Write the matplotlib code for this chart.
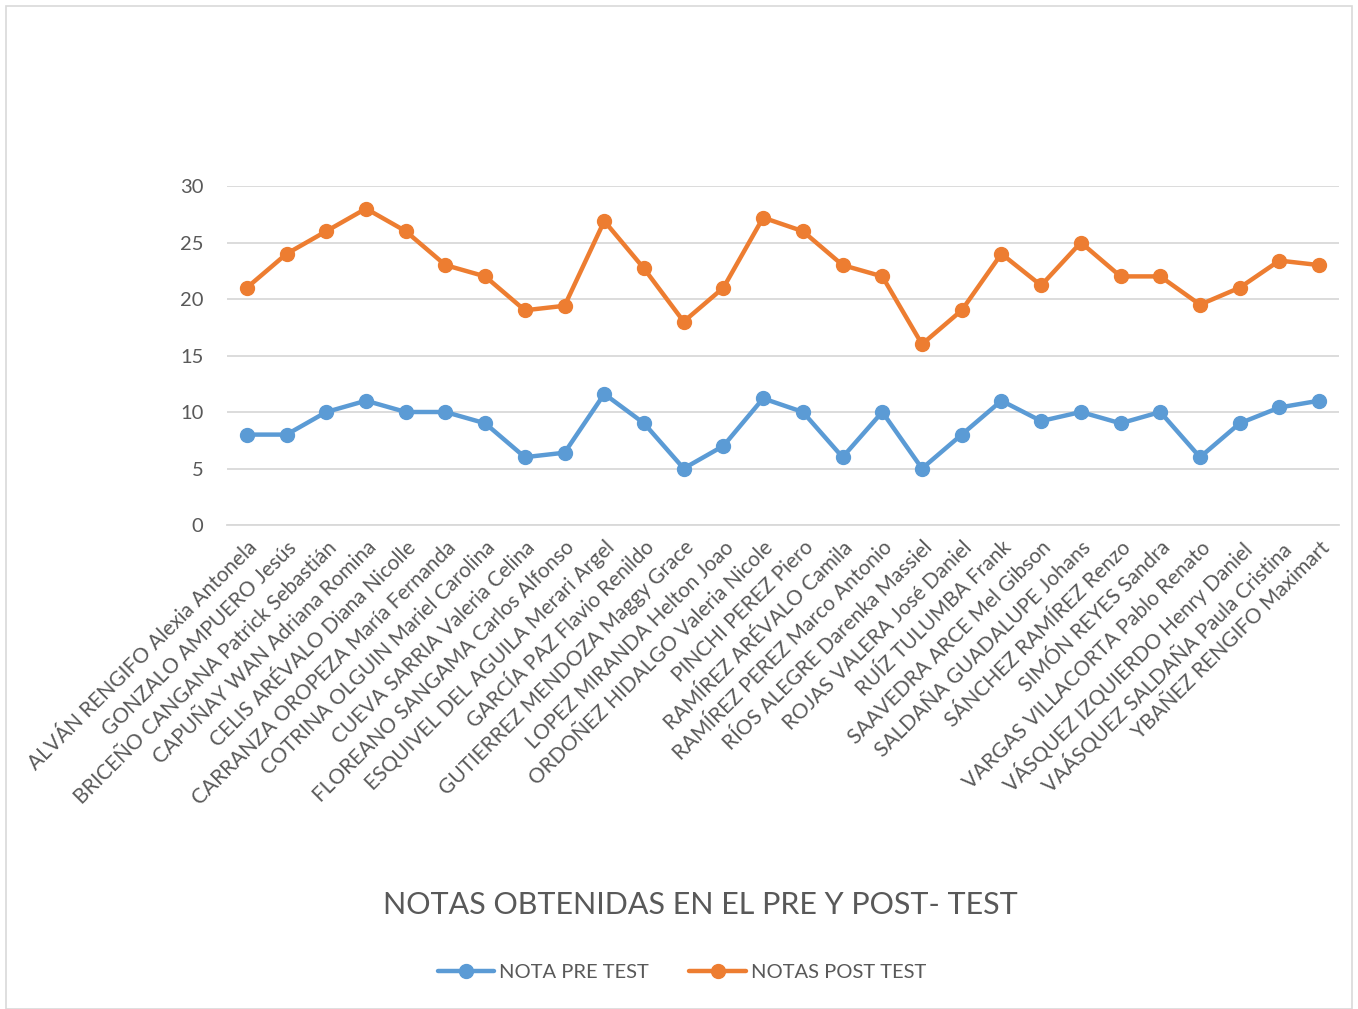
import matplotlib
matplotlib.use("Agg")
import matplotlib.pyplot as plt
from matplotlib.patches import Rectangle

plt.rcParams['font.family'] = ['Lato', 'DejaVu Sans']

students = [
    "ALVÁN RENGIFO Alexia Antonela",
    "GONZALO AMPUERO Jesús",
    "BRICEÑO CANGANA Patrick Sebastián",
    "CAPUÑAY WAN Adriana Romina",
    "CELIS ARÉVALO Diana Nicolle",
    "CARRANZA OROPEZA María Fernanda",
    "COTRINA OLGUIN Mariel Carolina",
    "CUEVA SARRIA Valeria Celina",
    "FLOREANO SANGAMA Carlos Alfonso",
    "ESQUIVEL DEL AGUILA Merari Argel",
    "GARCÍA PAZ Flavio Renildo",
    "GUTIERREZ MENDOZA Maggy Grace",
    "LOPEZ MIRANDA Helton Joao",
    "ORDOÑEZ HIDALGO Valeria Nicole",
    "PINCHI PEREZ Piero",
    "RAMÍREZ ARÉVALO Camila",
    "RAMÍREZ PEREZ Marco Antonio",
    "RÍOS ALEGRE Darenka Massiel",
    "ROJAS VALERA José Daniel",
    "RUÍZ TULUMBA Frank",
    "SAAVEDRA ARCE Mel Gibson",
    "SALDAÑA GUADALUPE Johans",
    "SÁNCHEZ RAMÍREZ Renzo",
    "SIMÓN REYES Sandra",
    "VARGAS VILLACORTA Pablo Renato",
    "VÁSQUEZ IZQUIERDO Henry Daniel",
    "VAÁSQUEZ SALDAÑA Paula Cristina",
    "YBAÑEZ RENGIFO Maximart",
]

pre_test = [8, 8, 10, 11, 10, 10, 9, 6, 6.4, 11.6, 9, 5, 7, 11.2, 10, 6, 10, 5, 8,
            11, 9.2, 10, 9, 10, 6, 9, 10.4, 11]
post_test = [21, 24, 26, 28, 26, 23, 22, 19, 19.4, 26.9, 22.7, 18, 21, 27.2, 26, 23,
             22, 16, 19, 24, 21.2, 25, 22, 22, 19.5, 21, 23.4, 23]

series_names = ["NOTA PRE TEST", "NOTAS POST TEST"]
y_ticks = [0, 5, 10, 15, 20, 25, 30]
title = "NOTAS OBTENIDAS EN EL PRE Y POST- TEST"

W, H = 1358, 1009
fig = plt.figure(figsize=(W / 100, H / 100), dpi=100)
fig.patches.append(Rectangle((6 / W, 0), (W - 12) / W, 1 - 6 / H, transform=fig.transFigure,
                             fill=False, edgecolor='#D9D9D9', linewidth=1.2))

ax = fig.add_axes([227 / W, 1 - 525 / H, (1339 - 227) / W, (525 - 186) / H])
x = list(range(len(students)))
blue = '#5B9BD5'
orange = '#ED7D31'
ax.plot(x, pre_test, color=blue, linewidth=3.2, marker='o', markersize=10,
        label=series_names[0], solid_capstyle='round', zorder=3)
ax.plot(x, post_test, color=orange, linewidth=3.2, marker='o', markersize=10,
        label=series_names[1], solid_capstyle='round', zorder=3)

ax.set_xlim(-0.5, len(students) - 0.5)
ax.set_ylim(0, 30)
ax.set_yticks(y_ticks)
ax.yaxis.grid(True, color='#D9D9D9', linewidth=1.3)
ax.set_axisbelow(True)
for s in ['top', 'right', 'left']:
    ax.spines[s].set_visible(False)
ax.spines['bottom'].set_color('#D9D9D9')
ax.spines['bottom'].set_linewidth(1.3)
ax.tick_params(axis='y', length=0, colors='#595959', labelsize=14.5, pad=17)
ax.set_xticks(x)
ax.set_xticklabels(students, rotation=45, ha='right', rotation_mode='anchor')
ax.tick_params(axis='x', length=0, colors='#595959', labelsize=15, pad=9)

fig.text(700 / W, 1 - 905 / H, title, ha='center', va='center', fontsize=22,
         color='#595959')

leg = fig.legend(loc='center', bbox_to_anchor=(682 / W, 1 - 972 / H), ncol=2, frameon=False,
                 fontsize=14.5, handlelength=2.8, columnspacing=2.0, handletextpad=0.25,
                 markerscale=1.0)
for t in leg.get_texts():
    t.set_color('#595959')

fig.savefig("out.png", dpi=100)
